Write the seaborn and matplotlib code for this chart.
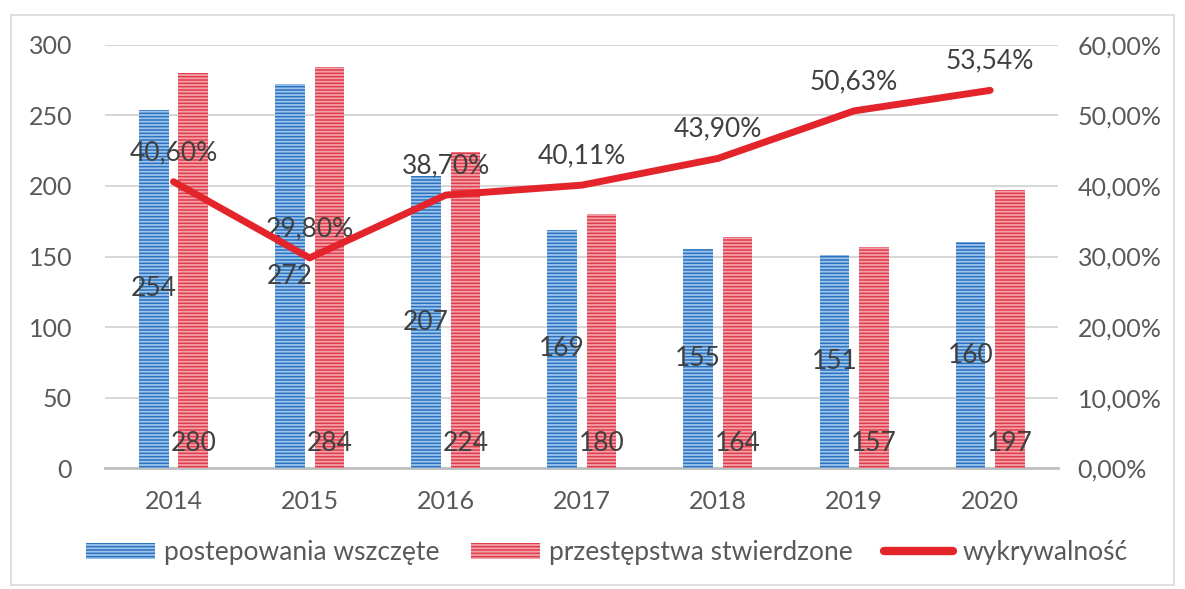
import matplotlib
matplotlib.use("Agg")
import matplotlib.pyplot as plt
import matplotlib.patches as mpatches
import matplotlib.lines as mlines
from matplotlib.ticker import FuncFormatter, MultipleLocator
import numpy as np
import pandas as pd
import seaborn as sns

years = ["2014", "2015", "2016", "2017", "2018", "2019", "2020"]
postepowania = [254, 272, 207, 169, 155, 151, 160]
przestepstwa = [280, 284, 224, 180, 164, 157, 197]
wykrywalnosc = [40.60, 29.80, 38.70, 40.11, 43.90, 50.63, 53.54]

s_blue = "postepowania wszczęte"
s_red = "przestępstwa stwierdzone"
s_line = "wykrywalność"

sns.set_theme(style="white")
plt.rcParams["font.family"] = ["Lato", "DejaVu Sans"]
plt.rcParams["hatch.linewidth"] = 1.3

blue_face, blue_hatch = "#2a72c0", "#9cc4ec"
red_face, red_hatch = "#df3d4b", "#f4a0a8"
line_col = "#e3242b"
tick_col = "#595959"
lab_col = "#404040"
fs_tick = 18
fs_lab = 19

df = pd.DataFrame({
    "rok": years * 2,
    "wartosc": postepowania + przestepstwa,
    "seria": [s_blue] * len(years) + [s_red] * len(years),
})

fig = plt.figure(figsize=(11.85, 5.89), dpi=100)
ax = fig.add_axes([0.089, 0.205, 0.804, 0.719])

sns.barplot(data=df, x="rok", y="wartosc", hue="seria", order=years,
            hue_order=[s_blue, s_red], palette=[blue_face, red_face],
            width=0.58, gap=0.25, ax=ax, legend=False, zorder=3)

for patch_container, face, hcol in zip(ax.containers, [blue_face, red_face], [blue_hatch, red_hatch]):
    for p in patch_container:
        p.set_facecolor(face)
        p.set_edgecolor(hcol)
        p.set_linewidth(0)
        p.set_hatch("-----")

# value labels
for p, v in zip(ax.containers[0], postepowania):
    ax.text(p.get_x() + p.get_width() / 2, v / 2, str(v), ha="center", va="center",
            fontsize=fs_lab, color=lab_col, zorder=6)
for p, v in zip(ax.containers[1], przestepstwa):
    ax.annotate(str(v), (p.get_x() + p.get_width() / 2, 0), xytext=(0, 18),
                textcoords="offset points", ha="center", va="center",
                fontsize=fs_lab, color=lab_col, zorder=6)

ax.set_ylim(0, 300)
ax.set_xlim(-0.5, len(years) - 0.5)
ax.yaxis.set_major_locator(MultipleLocator(50))
ax.grid(axis="y", color="#d0d0d0", linewidth=1.2, zorder=0)
ax.set_axisbelow(True)
for s in ["top", "right", "left"]:
    ax.spines[s].set_visible(False)
ax.spines["bottom"].set_color("#bfbfbf")
ax.spines["bottom"].set_linewidth(2)
ax.set_xlabel("")
ax.set_ylabel("")
ax.tick_params(axis="y", colors=tick_col, labelsize=fs_tick, length=0, pad=24)
ax.tick_params(axis="x", colors=tick_col, labelsize=fs_tick, length=0, pad=16)

ax2 = ax.twinx()
xpos = np.arange(len(years))
sns.lineplot(x=xpos, y=wykrywalnosc, ax=ax2, color=line_col, linewidth=5,
             legend=False, zorder=5)
for xi, v in zip(xpos, wykrywalnosc):
    ax2.annotate(f"{v:.2f}%".replace(".", ","), (xi, v), xytext=(0, 21),
                 textcoords="offset points", ha="center", va="center",
                 fontsize=fs_lab, color=lab_col)
ax2.set_ylim(0, 60)
ax2.yaxis.set_major_locator(MultipleLocator(10))
ax2.yaxis.set_major_formatter(FuncFormatter(lambda v, _: f"{v:.2f}%".replace(".", ",")))
for s in ax2.spines.values():
    s.set_visible(False)
ax2.grid(False)
ax2.tick_params(axis="y", colors=tick_col, labelsize=fs_tick, length=0, pad=14)
ax2.set_ylabel("")

handles = [
    mpatches.Patch(facecolor=blue_face, edgecolor=blue_hatch, hatch="-----", linewidth=0, label=s_blue),
    mpatches.Patch(facecolor=red_face, edgecolor=red_hatch, hatch="-----", linewidth=0, label=s_red),
    mlines.Line2D([], [], color=line_col, linewidth=6, label=s_line),
]
fig.legend(handles=handles, loc="center", bbox_to_anchor=(0.512, 0.062), ncol=3,
           frameon=False, fontsize=fs_tick + 1, handlelength=2.6, handleheight=0.55,
           handletextpad=0.35, columnspacing=1.2, labelcolor=tick_col)

fig.patches.append(mpatches.Rectangle((0.009, 0.006), 0.982, 0.968, transform=fig.transFigure,
                                      fill=False, edgecolor="#d9d9d9", linewidth=1.2))

fig.savefig("out.png", dpi=100)
